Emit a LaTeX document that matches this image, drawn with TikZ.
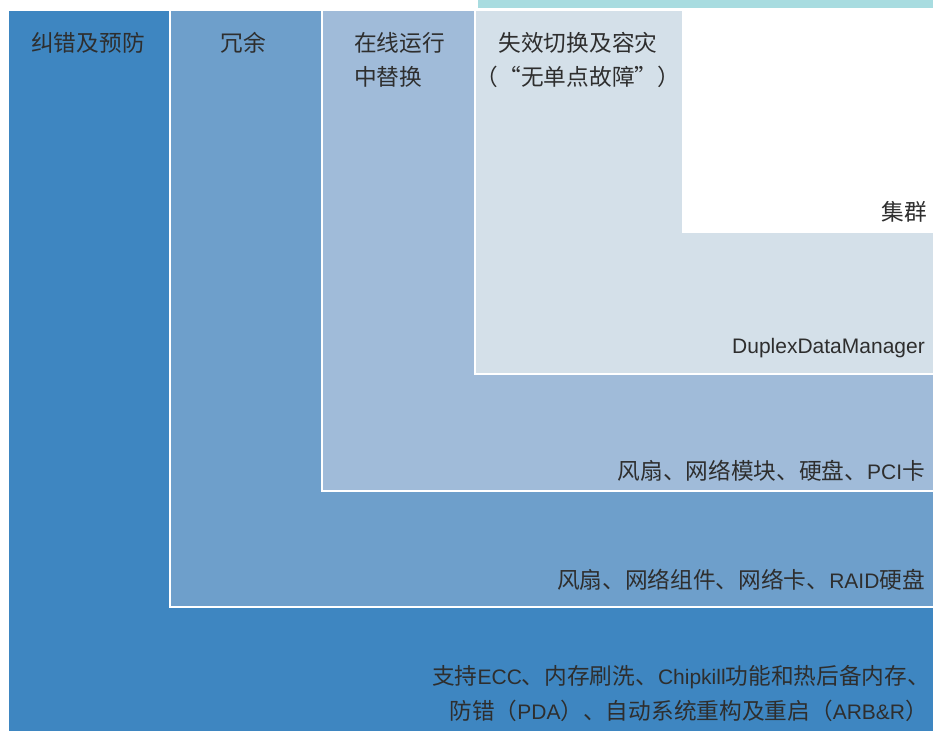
\documentclass[tikz,border=0pt]{standalone}
\usepackage{fontspec}
\setmainfont{Liberation Sans}
\newfontfamily\cjk[Scale=1.08]{Noto Sans CJK SC}
\definecolor{lvA}{HTML}{3E86C1}
\definecolor{lvB}{HTML}{6E9FCB}
\definecolor{lvC}{HTML}{A0BBD9}
\definecolor{lvD}{HTML}{D4E0E9}
\definecolor{strip}{HTML}{A8DCE0}
\definecolor{ink}{HTML}{2E2E2E}
\tikzset{
  lvbox/.style={draw=white, line width=2.5pt},
  lbl/.style={text=ink, inner sep=0pt, font=\fontsize{21}{36}\selectfont},
  rlbl/.style={lbl, anchor=base east},
  hlbl/.style={lbl, anchor=base},
  llbl/.style={lbl, anchor=base west},
}
\begin{document}
\begin{tikzpicture}[x=1pt,y=-1pt]
\useasboundingbox (0,0) rectangle (933,730);
\fill[white] (0,0) rectangle (933,730);
\fill[strip] (478,0) rectangle (935,8);
\path[lvbox, fill=lvA] (8,10) rectangle (940,740);
\path[lvbox, fill=lvB] (170,10) rectangle (940,607);
\path[lvbox, fill=lvC] (322,10) rectangle (940,491);
\path[lvbox, fill=lvD] (475,10) rectangle (940,374);
\fill[white] (682,10) rectangle (940,233);
% headers
\node[hlbl] (h1) at (88,52) {\cjk 纠错及预防};
\node[hlbl] (h2) at (243,52) {\cjk 冗余};
\node[llbl] (h3a) at (354,52) {\cjk 在线运行};
\node[llbl] (h3b) at (354,86) {\cjk 中替换};
\node[hlbl] (h4a) at (578,52) {\cjk 失效切换及容灾};
\node[hlbl] (h4b) at (578,86) {\cjk （“无单点故障”）};
% right labels
\node[rlbl] (t5) at (927,220) {\cjk 集群};
\node[rlbl] (t4) at (925,353) {DuplexDataManager};
\node[rlbl] (t3) at (925,479) {{\cjk 风扇、网络模块、硬盘、}PCI{\cjk 卡}};
\node[rlbl] (t2) at (925,588) {{\cjk 风扇、网络组件、网络卡、}RAID{\cjk 硬盘}};
\node[rlbl] (t1a) at (930,684) {{\cjk 支持}ECC{\cjk 、内存刷洗、}Chipkill{\cjk 功能和热后备内存、}};
\node[rlbl] (t1b) at (928,719) {{\cjk 防错（}PDA{\cjk ）、自动系统重构及重启（}ARB\&R{\cjk ）}};
\end{tikzpicture}
\end{document}
